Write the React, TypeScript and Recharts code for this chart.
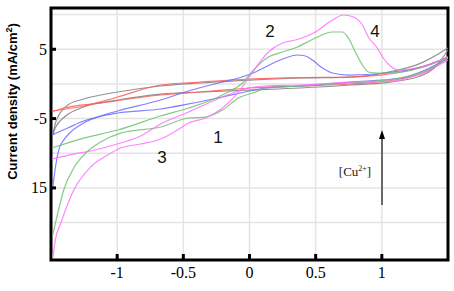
import { LineChart, Line, XAxis, YAxis, CartesianGrid, ReferenceArea } from 'recharts';

// potential (V) vs current density (mA/cm2), one array per scan branch
const grayForward = [
  { v: -1.487, i: -7.37 }, { v: -1.464, i: -5.5 }, { v: -1.426, i: -4.05 }, { v: -1.374, i: -3.04 },
  { v: -1.253, i: -2.18 }, { v: -0.996, i: -1.17 }, { v: -0.672, i: -0.3 }, { v: -0.37, i: 0.13 },
  { v: 0, i: 0.56 }, { v: 0.385, i: 0.85 }, { v: 0.762, i: 0.99 }, { v: 1.087, i: 1.86 },
  { v: 1.291, i: 2.96 }, { v: 1.5, i: 5.18 },
];
const grayReverse = [
  { v: -1.487, i: -7.37 }, { v: -1.464, i: -6.22 }, { v: -1.389, i: -4.63 }, { v: -1.253, i: -3.33 },
  { v: -0.996, i: -2.32 }, { v: -0.672, i: -1.46 }, { v: -0.37, i: -1.17 }, { v: 0, i: -0.88 },
  { v: 0.385, i: -0.59 }, { v: 0.762, i: -0.16 }, { v: 1.064, i: 0.27 }, { v: 1.268, i: 0.99 },
  { v: 1.404, i: 2.44 }, { v: 1.5, i: 4.89 },
];
const redForward = [
  { v: -1.494, i: -3.91 }, { v: -1.253, i: -3.19 }, { v: -0.996, i: -1.89 }, { v: -0.672, i: -0.16 },
  { v: -0.37, i: 0.27 }, { v: 0, i: 0.71 }, { v: 0.385, i: 0.92 }, { v: 0.762, i: 0.99 },
  { v: 0.989, i: 1.28 }, { v: 1.215, i: 2.01 }, { v: 1.366, i: 2.87 }, { v: 1.5, i: 3.88 },
];
const redReverse = [
  { v: -1.494, i: -4.05 }, { v: -1.404, i: -3.48 }, { v: -1.125, i: -2.76 }, { v: -0.672, i: -1.6 },
  { v: -0.37, i: -1.17 }, { v: 0, i: -0.59 }, { v: 0.385, i: -0.3 }, { v: 0.762, i: -0.01 },
  { v: 1.14, i: 0.71 }, { v: 1.328, i: 1.72 }, { v: 1.5, i: 3.74 },
];
const blueForward = [
  { v: -1.487, i: -15.02 }, { v: -1.464, i: -11.7 }, { v: -1.442, i: -9.54 }, { v: -1.404, i: -8.1 },
  { v: -1.351, i: -6.94 }, { v: -1.253, i: -5.64 }, { v: -1.125, i: -4.63 }, { v: -0.996, i: -3.91 },
  { v: -0.672, i: -2.32 }, { v: -0.46, i: -1.02 }, { v: -0.204, i: 0.27 }, { v: -0.083, i: 0.85 },
  { v: 0.045, i: 1.72 }, { v: 0.121, i: 2.44 }, { v: 0.196, i: 3.16 }, { v: 0.272, i: 3.74 },
  { v: 0.362, i: 4.17 }, { v: 0.423, i: 4.03 }, { v: 0.475, i: 3.45 }, { v: 0.551, i: 2.29 },
  { v: 0.626, i: 1.57 }, { v: 0.747, i: 1.28 }, { v: 0.951, i: 1.43 }, { v: 1.14, i: 1.86 },
  { v: 1.328, i: 2.58 }, { v: 1.5, i: 3.88 },
];
const blueReverse = [
  { v: -1.494, i: -7.37 }, { v: -1.374, i: -6.36 }, { v: -1.253, i: -5.35 }, { v: -0.996, i: -4.2 },
  { v: -0.672, i: -3.62 }, { v: -0.46, i: -2.89 }, { v: -0.204, i: -1.89 }, { v: 0, i: -1.02 },
  { v: 0.121, i: -0.59 }, { v: 0.385, i: -0.3 }, { v: 0.762, i: 0.27 }, { v: 1.14, i: 0.85 },
  { v: 1.328, i: 2.01 }, { v: 1.5, i: 3.74 },
];
const greenForward = [
  { v: -1.494, i: -9.25 }, { v: -1.253, i: -7.81 }, { v: -0.996, i: -6.65 }, { v: -0.672, i: -4.63 },
  { v: -0.46, i: -3.48 }, { v: -0.204, i: -1.6 }, { v: -0.053, i: 0.13 }, { v: 0.045, i: 2.29 },
  { v: 0.143, i: 3.88 }, { v: 0.249, i: 4.6 }, { v: 0.362, i: 5.32 }, { v: 0.498, i: 6.62 },
  { v: 0.626, i: 7.49 }, { v: 0.702, i: 7.49 }, { v: 0.747, i: 6.62 }, { v: 0.8, i: 4.6 },
  { v: 0.853, i: 2.73 }, { v: 0.898, i: 1.72 }, { v: 0.966, i: 1.57 }, { v: 1.064, i: 1.57 },
  { v: 1.291, i: 2.29 }, { v: 1.5, i: 3.88 },
];
const greenReverse = [
  { v: -1.487, i: -21.8 }, { v: -1.449, i: -18.63 }, { v: -1.404, i: -15.31 }, { v: -1.328, i: -12.13 },
  { v: -1.253, i: -10.26 }, { v: -1.125, i: -8.38 }, { v: -0.974, i: -7.09 }, { v: -0.672, i: -6.22 },
  { v: -0.46, i: -4.92 }, { v: -0.332, i: -4.78 }, { v: -0.204, i: -3.77 }, { v: -0.083, i: -2.03 },
  { v: 0.045, i: -1.17 }, { v: 0.121, i: -0.59 }, { v: 0.385, i: -0.3 }, { v: 0.762, i: 0.13 },
  { v: 1.14, i: 0.85 }, { v: 1.328, i: 1.86 }, { v: 1.5, i: 3.74 },
];
const magentaForward = [
  { v: -1.487, i: -25.12 }, { v: -1.464, i: -22.2 }, { v: -1.426, i: -20.07 }, { v: -1.328, i: -15.31 },
  { v: -1.2, i: -11.98 }, { v: -1.072, i: -10.26 }, { v: -0.974, i: -9.25 }, { v: -0.823, i: -8.67 },
  { v: -0.672, i: -7.95 }, { v: -0.558, i: -6.8 }, { v: -0.46, i: -5.64 }, { v: -0.332, i: -4.92 },
  { v: -0.204, i: -3.48 }, { v: -0.083, i: -1.17 }, { v: 0.045, i: 2.29 }, { v: 0.143, i: 4.6 },
  { v: 0.249, i: 5.9 }, { v: 0.347, i: 6.33 }, { v: 0.498, i: 7.49 }, { v: 0.626, i: 9.22 },
  { v: 0.709, i: 9.94 }, { v: 0.785, i: 9.65 }, { v: 0.853, i: 8.5 }, { v: 0.898, i: 6.77 },
  { v: 0.966, i: 5.18 }, { v: 1.011, i: 3.74 }, { v: 1.064, i: 2.58 }, { v: 1.117, i: 2.01 },
  { v: 1.291, i: 2.44 }, { v: 1.5, i: 3.88 },
];
const magentaReverse = [
  { v: -1.494, i: -10.84 }, { v: -1.328, i: -10.12 }, { v: -1.2, i: -9.68 }, { v: -0.974, i: -8.53 },
  { v: -0.823, i: -7.52 }, { v: -0.672, i: -5.79 }, { v: -0.46, i: -4.05 }, { v: -0.204, i: -1.89 },
  { v: -0.008, i: -0.59 }, { v: 0.121, i: -0.3 }, { v: 0.385, i: -0.16 }, { v: 0.762, i: 0.27 },
  { v: 1.087, i: 0.42 }, { v: 1.291, i: 1.43 }, { v: 1.5, i: 3.45 },
];

const xTicks = [-1, -0.5, 0, 0.5, 1];
const yTicks = [10, 5, 0, -5, -10, -15, -20];
const yTickLabels: Record<string, string> = { '5': '5', '-5': '-5', '-15': '15' };
const xDomain = [-1.5, 1.5];
const yDomain = [-25.4, 10.95];

const series = [
  { key: 'grayF', data: grayForward, color: '#808080' },
  { key: 'grayR', data: grayReverse, color: '#808080' },
  { key: 'redF', data: redForward, color: '#ff5c5c' },
  { key: 'redR', data: redReverse, color: '#ff5c5c' },
  { key: 'blueF', data: blueForward, color: '#6b6bff' },
  { key: 'blueR', data: blueReverse, color: '#6b6bff' },
  { key: 'greenF', data: greenForward, color: '#6ebf6e' },
  { key: 'greenR', data: greenReverse, color: '#6ebf6e' },
  { key: 'magentaF', data: magentaForward, color: '#ff70ff' },
  { key: 'magentaR', data: magentaReverse, color: '#ff70ff' },
];

const serif = '"Liberation Serif", "Times New Roman", serif';
const sans = '"Liberation Sans", Arial, sans-serif';

const YTick = (props: any) => {
  const { x, y, payload } = props;
  const label = yTickLabels[String(payload.value)];
  if (!label) return <g />;
  return (
    <g>
      <rect x={x + 4} y={y - 1.5} width={5} height={3} fill="#000" />
      <text x={x} y={y + 5.5} textAnchor="end" fontFamily={serif} fontSize={16} fill="#000">
        {label}
      </text>
    </g>
  );
};

const XTick = (props: any) => {
  const { x, y, payload } = props;
  return (
    <g>
      <rect x={x - 1.5} y={y - 6} width={3} height={5} fill="#000" />
      <text x={x} y={y + 18} textAnchor="middle" fontFamily={serif} fontSize={16} fill="#000">
        {String(payload.value)}
      </text>
    </g>
  );
};

export default function App() {
  return (
    <div style={{ position: 'absolute', left: 0, top: 0, width: 454, height: 291, background: '#fff' }}>
      <LineChart width={454} height={291} margin={{ top: 8, right: 6, bottom: 0, left: 0 }}>
        <CartesianGrid stroke="#e4e4e4" strokeWidth={1.5} />
        <XAxis
          type="number"
          dataKey="v"
          domain={xDomain}
          ticks={xTicks}
          allowDataOverflow
          height={31}
          axisLine={false}
          tickLine={false}
          tickSize={0}
          tickMargin={0}
          tick={XTick}
        />
        <YAxis
          type="number"
          dataKey="i"
          domain={yDomain}
          ticks={yTicks}
          allowDataOverflow
          width={51}
          axisLine={false}
          tickLine={false}
          tickSize={0}
          tickMargin={4}
          tick={YTick}
        />
        {series.map((s) => (
          <Line
            key={s.key}
            data={s.data}
            dataKey="i"
            type="monotone"
            stroke={s.color}
            strokeWidth={1.2}
            strokeOpacity={0.85}
            dot={false}
            isAnimationActive={false}
          />
        ))}
        <ReferenceArea
          x1={xDomain[0]}
          x2={xDomain[1]}
          y1={yDomain[0]}
          y2={yDomain[1]}
          fill="none"
          stroke="#000"
          strokeWidth={3}
          ifOverflow="visible"
        />
      </LineChart>
      <svg
        width={454}
        height={291}
        style={{ position: 'absolute', left: 0, top: 0, pointerEvents: 'none' }}
      >
        <text
          transform="translate(17,101.5) rotate(-90)"
          textAnchor="middle"
          fontFamily={sans}
          fontWeight="bold"
          fontSize={13}
          fill="#000"
        >
          Current density (mA/cm<tspan dy={-5} fontSize={9}>2</tspan>
          <tspan dy={5}>)</tspan>
        </text>
        <g fontFamily={sans} fontSize={17} fill="#111" textAnchor="middle">
          <text x={218} y={143}>1</text>
          <text x={270} y={37}>2</text>
          <text x={162} y={163}>3</text>
          <text x={375} y={37}>4</text>
        </g>
        <text x={355} y={176} textAnchor="middle" fontFamily={serif} fontSize={13} fill="#222">
          [Cu<tspan dy={-5} fontSize={8}>2+</tspan>
          <tspan dy={5}>]</tspan>
        </text>
        <line x1={382} y1={205} x2={382} y2={137} stroke="#222" strokeWidth={1.3} />
        <polygon points="382,130 379,139 385,139" fill="#000" />
      </svg>
    </div>
  );
}
